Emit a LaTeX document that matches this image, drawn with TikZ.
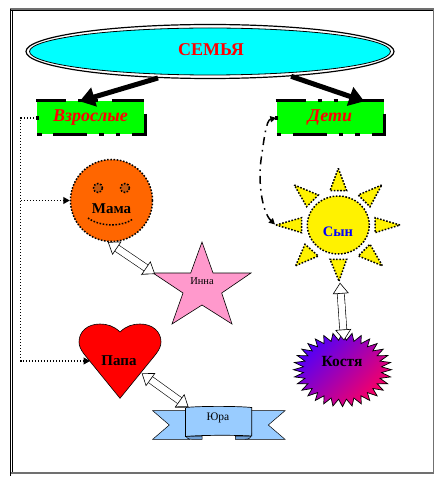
\documentclass[tikz,border=0pt]{standalone}
\usepackage{fontspec}
\setmainfont{Liberation Serif}
\usetikzlibrary{arrows.meta,shapes.geometric,calc}
\definecolor{cyanfill}{HTML}{00FFFF}
\definecolor{limefill}{HTML}{00FF00}
\definecolor{orangefill}{HTML}{FF6600}
\definecolor{eyefill}{HTML}{C85A10}
\definecolor{pinkfill}{HTML}{FF99CC}
\definecolor{bandfill}{HTML}{99CCFF}
\definecolor{foldfill}{HTML}{6FA0D8}
\definecolor{framegray}{HTML}{707070}
\definecolor{shadeA}{HTML}{4A00FF}
\definecolor{shadeB}{HTML}{B000B0}
\definecolor{shadeC}{HTML}{FF0060}
\tikzset{
  dotline/.style={line width=1.5pt,dash pattern=on 1.6pt off 1.6pt},
  dotconn/.style={line width=1.1pt,dash pattern=on 1.3pt off 1.7pt,-{Triangle[length=6.5pt,width=7pt]}},
  thickarrow/.style={line width=5pt,-{Triangle[length=15pt,width=19pt]}},
  dblarrow/.style={double=white,double distance=6.5pt,line width=.6pt,
    {Triangle[open,fill=white,length=11pt,width=16pt]}-{Triangle[open,fill=white,length=11pt,width=16pt]}},
  boxnode/.style={fill=limefill,minimum width=107pt,minimum height=33pt,inner sep=0pt,
    font=\fontsize{18}{18}\selectfont\bfseries\itshape,text=red},
  boxedge/.style={line width=3pt},
  boldlabel/.style={font=\fontsize{15}{15}\selectfont\bfseries,inner sep=0pt},
  smalllabel/.style={font=\fontsize{10.5}{11}\selectfont,inner sep=0pt},
  ray/.style={fill=yellow,draw=black,dotline},
}
\newcommand{\boxedges}[1]{%
  \begin{scope}[xshift=#1pt]
    \draw[boxedge] (36,101) -- (66,101) (78,101) -- (82,101) (94,101) -- (98,101) (112,101) -- (144,101);
    \draw[boxedge] (145,114) -- (145,135) -- (132,135);
    \draw[boxedge] (37,135) -- (41.5,135) (53,135) -- (87,135) (99,135) -- (103.5,135) (115.5,135) -- (120,135);
    \draw[boxedge] (37,116.5) -- (37,120);
  \end{scope}}
\begin{document}
\begin{tikzpicture}[x=1pt,y=-1pt]
\useasboundingbox (0,0) rectangle (442,486);
\fill[white] (0,0) rectangle (442,486);
% frame
\draw[framegray,line width=1.8pt] (10,9) -- (433.5,9) -- (433.5,473.3) -- (10,473.3);
\draw[black,line width=.7pt] (10.3,9.5) -- (10.3,476);
\draw[black,line width=.7pt] (12.5,10.5) -- (12.5,472) ;
\draw[black,line width=.5pt] (10.3,10.3) -- (432.5,10.3);
% family ellipse
\node[ellipse,draw=black,line width=1.2pt,fill=white,minimum width=368pt,minimum height=54pt,inner sep=0pt] (fam) at (210,51.5) {};
\node[ellipse,draw=black,line width=.8pt,fill=cyanfill,minimum width=361pt,minimum height=47pt,inner sep=0pt] (famin) at (210,51.5) {};
\node[font=\fontsize{18}{18}\selectfont\bfseries,text=red,inner sep=0pt] (famt) at (211,49.5) {СЕМЬЯ};
% boxes
\node[boxnode] (vz) at (90.5,118) {Взрослые};
\node[boxnode] (det) at (330,118) {Дети};
\boxedges{0}
\boxedges{239.5}
\draw[thickarrow] (fam.207.5) -- (vz.123.7);
\draw[thickarrow] (fam.343.8) -- (det.26);
% mama
\node[circle,fill=orangefill,draw=black,dotline,minimum size=82pt,inner sep=0pt] (mama) at (111.5,200.5) {};
\node[circle,fill=eyefill,draw=black,dotline,minimum size=9pt,inner sep=0pt] (eyeL) at (98,188) {};
\node[circle,fill=eyefill,draw=black,dotline,minimum size=9pt,inner sep=0pt] (eyeR) at (125,188) {};
\draw[dotline] (88,218) .. controls (100,227) and (122,227) .. (133,219);
\node[boldlabel] (mamat) at (111.5,209) {Мама};
% heart
\path[fill=red,draw=black,line width=.6pt]
  (120,332) .. controls (126,326) and (133,324) .. (140,324)
  .. controls (153,324) and (161,332) .. (161,342)
  .. controls (161,346) and (159,350) .. (156,354)
  -- (120,398.3) -- (84,354)
  .. controls (81,350) and (79,346) .. (79,342)
  .. controls (79,332) and (87,324) .. (100,324)
  .. controls (107,324) and (114,326) .. (120,332) -- cycle;
\node[boldlabel] (papa) at (119,361) {Папа};
\coordinate (heartL) at (90,361);
\coordinate (heartE) at (141.7,373.3);
% dotted connectors
\coordinate (bend) at ($(vz.west)+(-16,0)$);
\draw[dotconn] (vz.west) -- (bend) |- (heartL);
\draw[dotconn] (bend |- mama.west) -- (mama.west);
% star
\path[fill=pinkfill,draw=black,line width=.6pt]
  (202,242) -- (213,273) -- (251,273) -- (221.7,293) -- (232,324) -- (202,305)
  -- (172,324) -- (183,293) -- (153,273) coordinate (innaL) -- (190.7,273) -- cycle;
\node[smalllabel] (inna) at (202,281) {Инна};
\draw[framegray,line width=1pt] (141,274.6) -- (innaL);
\coordinate (innaE) at (155,274);
\draw[dblarrow] (mama.265.6) -- (innaE);
% sun
\node[ellipse,fill=yellow,draw=black,dotline,minimum width=62pt,minimum height=58pt,inner sep=0pt] (sun) at (338.3,225) {};
\node[font=\fontsize{14.5}{14}\selectfont\bfseries,text=blue,inner sep=0pt] (syn) at (338,232) {Сын};
\draw[ray] (338.3,168.3) -- (346.7,190.7) -- (330,190.7) -- cycle;
\draw[ray] (339,281) -- (346.7,259.3) -- (330,259.3) -- cycle;
\draw[ray] (276,225) -- (301.7,217.7) -- (301.7,232.7) -- cycle;
\draw[ray] (400,225) -- (375,217.7) -- (375,232.7) -- cycle;
\draw[ray] (294.3,185) -- (318.3,195) -- (306.7,206.7) -- cycle;
\draw[ray] (381.7,185) -- (358.3,195) -- (370,206.7) -- cycle;
\draw[ray] (295.7,265.7) -- (305,244.3) -- (318.3,256) -- cycle;
\draw[ray] (382.3,265.7) -- (370,244.3) -- (358.3,256) -- cycle;
\coordinate (sunL) at (275,224.5);
\coordinate (sunB) at (340,282.7);
\draw[line width=1.5pt,dash pattern=on 8pt off 5pt on 1.6pt off 5pt,{Triangle[length=6pt,width=6pt]}-{Triangle[length=6pt,width=6pt]}]
  (det.west) .. controls (266,120) and (264,140) .. (261,160)
  .. controls (258,182) and (262,212) .. (sunL);
% kostya
\draw[left color=shadeA,middle color=shadeB,right color=shadeC,draw=black,line width=.7pt,shading angle=45]
  plot[samples at={0,1,...,63},variable=\k]
  ({342.5+49*(1-.2*mod(\k,2))*cos(\k*5.625)},{369.7+37*(1-.2*mod(\k,2))*sin(\k*5.625)}) -- cycle;
\node[boldlabel,font=\fontsize{15.5}{15}\selectfont\bfseries] (kost) at (342,361) {Костя};
\coordinate (kostT) at (344,340.5);
\draw[dblarrow] (sunB) -- (kostT);
% ribbon
\path[fill=bandfill,draw=black,line width=.5pt]
  (152.7,410.7) -- (190,410.7) -- (190,439.3) -- (152.7,439.3) -- (169.3,425) -- cycle;
\path[fill=bandfill,draw=black,line width=.5pt]
  (285,410.7) -- (245,410.7) -- (245,439.3) -- (285,439.3) -- (268.3,425) -- cycle;
\path[fill=foldfill,draw=black,line width=.5pt]
  (187,436) -- (202,436) -- (202,439.3) -- (192,439.3) .. controls (188,439.3) and (186,438) .. (185.5,434) -- cycle;
\path[fill=foldfill,draw=black,line width=.5pt]
  (250,436) -- (235.3,436) -- (235.3,439.3) -- (245,439.3) .. controls (249,439.3) and (251,438) .. (251.5,434) -- cycle;
\path[fill=bandfill,draw=black,line width=.7pt]
  (185.5,407.5) .. controls (200,406) and (237,406) .. (251.7,407.5) -- (251.7,436)
  .. controls (237,435) and (200,435) .. (185.5,436.5) -- cycle;
\node[smalllabel,font=\fontsize{11.5}{12}\selectfont] (yura) at (218,417.5) {Юра};
\coordinate (yuraE) at (188.5,407);
\draw[framegray,line width=1pt] (174.5,407.3) -- (186,407.3);
\draw[dblarrow] (heartE) -- (yuraE);
\end{tikzpicture}
\end{document}
